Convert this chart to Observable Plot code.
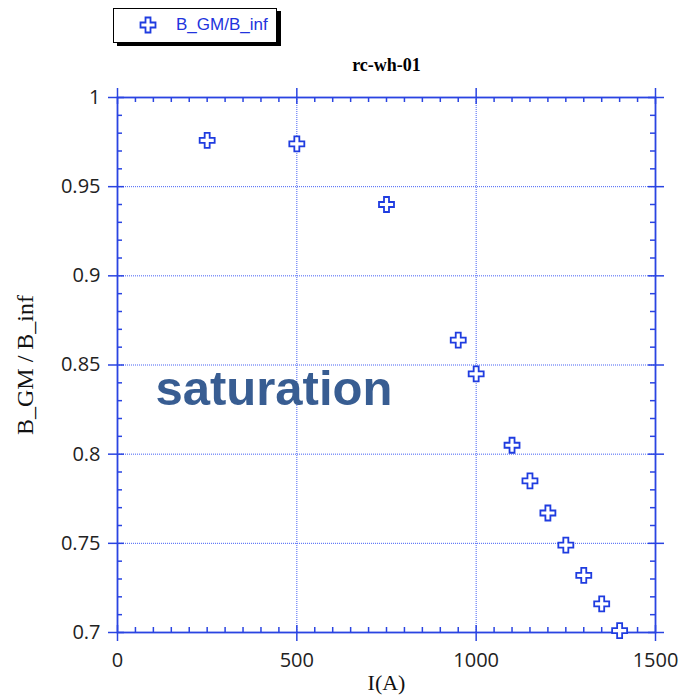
<!DOCTYPE html>
<html><head><meta charset="utf-8">
<script src="https://cdn.jsdelivr.net/npm/d3@7"></script>
<script src="https://cdn.jsdelivr.net/npm/@observablehq/plot@0.6"></script>
<style>
body{margin:0;background:#fff;}
#wrap{position:relative;width:680px;height:696px;}
#legend{position:absolute;left:113px;top:8px;width:164px;height:35px;border:1.5px solid #000;box-shadow:4px 3px 0 #000;background:#fff;box-sizing:border-box;}
#legend svg{position:absolute;left:24px;top:6px;}
#legend span{position:absolute;left:62px;top:6px;font-family:"Liberation Sans",Arial,sans-serif;font-size:17px;color:#2233dd;white-space:nowrap;}
</style></head><body>
<div id="wrap"><div id="chart"></div><div id="legend"></div></div>
<script>
const title = "rc-wh-01";
const seriesName = "B_GM/B_inf";
const xLabel = "I(A)";
const yLabel = "B_GM / B_inf";
const current = [250, 500, 750, 950, 1000, 1100, 1150, 1200, 1250, 1300, 1350, 1400];
const ratio = [0.976, 0.974, 0.940, 0.864, 0.845, 0.805, 0.785, 0.767, 0.749, 0.732, 0.716, 0.701];
const xDomain = [0, 1500];
const yDomain = [0.7, 1];
const xMajor = [0, 500, 1000, 1500];
const yMajor = [0.7, 0.75, 0.8, 0.85, 0.9, 0.95, 1];
const xTickLabels = ["0", "500", "1000", "1500"];
const yTickLabels = ["0.7", "0.75", "0.8", "0.85", "0.9", "0.95", "1"];
const annotations = [{x: 106, y: 0.8276, text: "saturation"}];

const points = current.map((x, i) => ({x, y: ratio[i]}));
const xMinor = d3.range(0, 1501, 50).filter(v => v % 500 !== 0);
const yMinor = d3.range(70, 101).filter(v => v % 5 !== 0).map(v => v / 100);

const blue = "#2a44e2";
const gridBlue = "#4460f5";
const markBlue = "#1f3ce0";

const plusSymbol = {
  draw(ctx, size) {
    const h = Math.sqrt(size / Math.PI), a = h / 3;
    ctx.moveTo(-a, -h); ctx.lineTo(a, -h); ctx.lineTo(a, -a); ctx.lineTo(h, -a);
    ctx.lineTo(h, a); ctx.lineTo(a, a); ctx.lineTo(a, h); ctx.lineTo(-a, h);
    ctx.lineTo(-a, a); ctx.lineTo(-h, a); ctx.lineTo(-h, -a); ctx.lineTo(-a, -a);
    ctx.closePath();
  }
};

const tickStyle = {stroke: blue, strokeWidth: 1.5};
const serif = "'Liberation Serif', 'Times New Roman', serif";

const chart = Plot.plot({
  width: 680, height: 696,
  marginLeft: 117, marginRight: 25, marginTop: 97, marginBottom: 64,
  style: {fontFamily: "'Open Sans', sans-serif", fontSize: "20px", color: "#222", background: "white"},
  x: {domain: xDomain},
  y: {domain: yDomain},
  marks: [
    Plot.ruleX(xMajor, {x: d => d, stroke: gridBlue, strokeWidth: 1, strokeDasharray: "1,1"}),
    Plot.ruleY(yMajor, {y: d => d, stroke: gridBlue, strokeWidth: 1, strokeDasharray: "1,1"}),
    Plot.ruleX(xMinor, {x: d => d, y1: yDomain[0], y2: yDomain[0], insetTop: 0, insetBottom: 5, ...tickStyle}),
    Plot.ruleX(xMajor, {x: d => d, y1: yDomain[0], y2: yDomain[0], insetTop: -7, insetBottom: -9, ...tickStyle}),
    Plot.ruleX(xMinor, {x: d => d, y1: yDomain[1], y2: yDomain[1], insetTop: 0, insetBottom: -5, ...tickStyle}),
    Plot.ruleX(xMajor, {x: d => d, y1: yDomain[1], y2: yDomain[1], insetTop: -9, insetBottom: -7, ...tickStyle}),
    Plot.ruleY(yMinor, {y: d => d, x1: xDomain[0], x2: xDomain[0], insetLeft: 0, insetRight: -5, ...tickStyle}),
    Plot.ruleY(yMajor, {y: d => d, x1: xDomain[0], x2: xDomain[0], insetLeft: -9, insetRight: -7, ...tickStyle}),
    Plot.ruleY(yMinor, {y: d => d, x1: xDomain[1], x2: xDomain[1], insetLeft: -5, insetRight: 0, ...tickStyle}),
    Plot.ruleY(yMajor, {y: d => d, x1: xDomain[1], x2: xDomain[1], insetLeft: -7, insetRight: -9, ...tickStyle}),
    Plot.frame({stroke: blue, strokeWidth: 1.8}),
    Plot.axisX(xMajor, {tickSize: 0, tickPadding: 20, label: null, tickFormat: (d, i) => xTickLabels[i], fill: "#222"}),
    Plot.axisY(yMajor, {tickSize: 0, tickPadding: 17, label: null, tickFormat: (d, i) => yTickLabels[i], fill: "#222"}),
    Plot.text(annotations, {x: "x", y: "y", text: "text", textAnchor: "start", lineAnchor: "bottom",
      fontSize: 49, fontWeight: "bold", fontFamily: "'Liberation Sans', Arial, sans-serif", fill: "#385d92"}),
    Plot.dot(points, {x: "x", y: "y", symbol: plusSymbol, r: 7.5, stroke: markBlue, strokeWidth: 1.8, fill: "white"}),
    Plot.text([title], {frameAnchor: "top", textAnchor: "middle", dy: -27, lineAnchor: "bottom", fontSize: 18, fontWeight: "bold",
      fontFamily: serif, fill: "#000"}),
    Plot.text([xLabel], {frameAnchor: "bottom", textAnchor: "middle", dy: 50, lineAnchor: "middle", fontSize: 22,
      fontFamily: serif, fill: "#111"}),
    Plot.text([yLabel], {frameAnchor: "left", textAnchor: "middle", dx: -92, rotate: -90, lineAnchor: "middle", fontSize: 24,
      fontFamily: serif, fill: "#111"})
  ]
});
document.getElementById("chart").appendChild(chart);

const legend = document.getElementById("legend");
const s = 7.5, a = s / 3;
legend.innerHTML = `<svg width="20" height="20" viewBox="-10 -10 20 20"><path d="M${-a},${-s}H${a}V${-a}H${s}V${a}H${a}V${s}H${-a}V${a}H${-s}V${-a}H${-a}Z" fill="white" stroke="${markBlue}" stroke-width="1.8"/></svg><span></span>`;
legend.querySelector("span").textContent = seriesName;
</script>
</body></html>
